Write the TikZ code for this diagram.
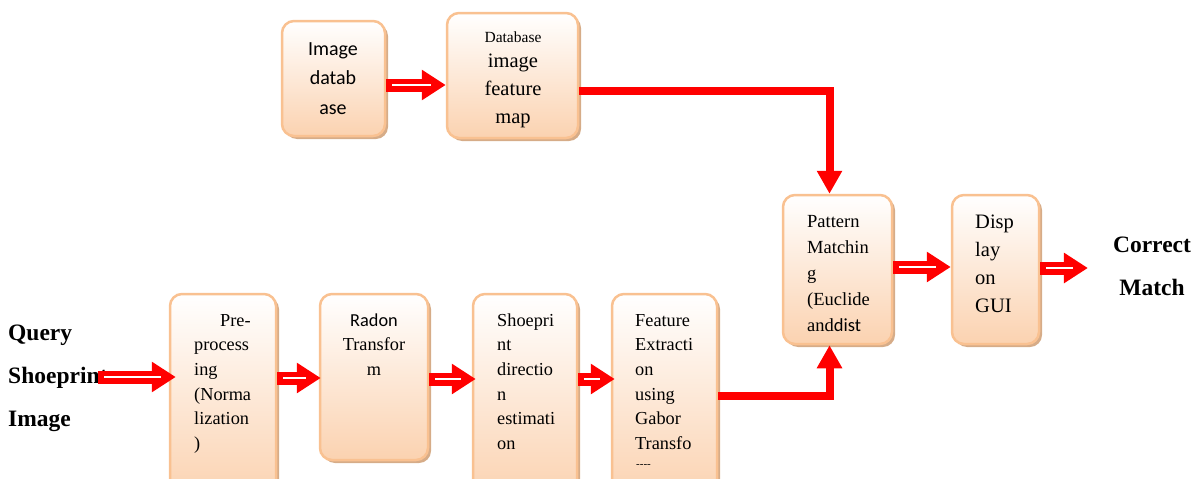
\documentclass[tikz,border=0pt]{standalone}
\usepackage{fontspec}
\setmainfont{Liberation Serif}
\newfontfamily\calibri{Carlito}
\usetikzlibrary{arrows.meta,calc,shadows}
\definecolor{boxline}{RGB}{249,193,145}
\definecolor{boxfill}{RGB}{251,210,176}
\definecolor{boxshadow}{RGB}{214,172,136}
\begin{document}
\begin{tikzpicture}[x=1pt,y=-1pt,
	box/.style={draw=boxline,line width=2.5pt,rounded corners=12pt,top color=white,bottom color=boxfill,
		drop shadow={shadow xshift=3pt,shadow yshift=-3pt,fill=boxshadow,opacity=1}},
	boxtext/.style={inner sep=0,anchor=base west,align=left,font={\fontsize{18.3}{24.7}\selectfont}},
	bigtext/.style={inner sep=0,anchor=base west,align=left,font={\fontsize{23.5}{43}\selectfont\bfseries}},
	hollow/.style={draw=red,line width=13pt,-{Triangle[length=24pt,width=29pt]},
		postaction={draw=white,line width=2.5pt,-,shorten <=6pt,shorten >=15pt}},
	thickred/.style={draw=red,line width=8pt,-{Triangle[length=23pt,width=24pt]}}]
	\useasboundingbox (0,0) rectangle (1197,479);
	% boxes
	\node[box,minimum width=103pt,minimum height=115pt] (imgdb) at (333.5,78.5) {};
	\node[box,minimum width=131pt,minimum height=125pt] (fmap) at (512.5,75.5) {};
	\node[box,minimum width=106pt,minimum height=206pt] (pre) at (223,397) {};
	\node[box,minimum width=108pt,minimum height=166pt] (radon) at (374,377) {};
	\node[box,minimum width=104pt,minimum height=206pt] (shoe) at (525,397) {};
	\node[box,minimum width=105pt,minimum height=206pt] (feat) at (664.5,397) {};
	\node[box,minimum width=109pt,minimum height=149pt] (pm) at (837.5,269.5) {};
	\node[box,minimum width=87pt,minimum height=149pt] (disp) at (995.5,269.5) {};
	% texts (base = last line)
	\node[boxtext,anchor=base,align=center,font={\fontsize{20}{29.5}\calibri}] (imgdb-t) at (333,114) {Image\\datab\\ase};
	\node[boxtext,anchor=base,align=center,font={\fontsize{20.5}{28}\selectfont}] (fmap-t) at (513,123)
		{{\fontsize{15.5}{15.5}\selectfont Database}\\[-3pt]image\\feature\\map};
	\node[boxtext] (pre-t) at (194,449.5) {\hspace*{26pt}Pre-\\process\\ing\\(Norma\\lization\\)};
	\node[boxtext,anchor=base,align=center] (radon-t) at (374,375.4) {{\calibri Radon}\\Transfor\\m};
	\node[boxtext] (shoe-t) at (497,449.5) {Shoepri\\nt\\directio\\n\\estimati\\on};
	\node[boxtext] (feat-t) at (635,449.5) {Feature\\Extracti\\on\\using\\Gabor\\Transfo};
	\node[boxtext,font={\fontsize{11}{11}\selectfont}] (feat-cut) at (636,467) {{-}{-}{-}{-}};
	\node[boxtext,font={\fontsize{18.5}{26}\selectfont}] (pm-t) at (807,331) {Pattern\\Matchin\\g\\(Euclide\\and{\calibri dist}};
	\node[boxtext,font={\fontsize{20.5}{27.7}\selectfont}] (disp-t) at (975,312) {Disp\\lay\\on\\GUI};
	\node[bigtext] (query) at (8,426) {Query\\Shoeprint\\Image};
	\node[bigtext,anchor=base,align=center] (correct) at (1152,295) {Correct\\Match};
	% arrows
	\coordinate (qstart) at (98,377);
	\draw[hollow] (imgdb.east |- 0,85) -- (fmap.west |- 0,85);
	\draw[hollow] (qstart) -- ($(pre.west |- qstart)+(7,0)$);
	\draw[hollow] (pre.east |- 0,378) -- ($(radon.west |- 0,378)+(2,0)$);
	\draw[hollow] (radon.east |- 0,379) -- ($(shoe.west |- 0,379)+(4,0)$);
	\draw[hollow] (shoe.east |- 0,379) -- ($(feat.west |- 0,379)+(4,0)$);
	\draw[hollow] (pm.east |- 0,267) -- (disp.west |- 0,267);
	\draw[hollow] (disp.east |- 0,268) -- ($(correct.west |- 0,268)+(-25,0)$);
	\draw[thickred] (fmap.east |- 0,91) -| ($(pm.north)+(-8,0)$);
	\draw[thickred] (feat.east |- 0,396) -| ($(pm.south)+(-8,0)$);
\end{tikzpicture}
\end{document}
